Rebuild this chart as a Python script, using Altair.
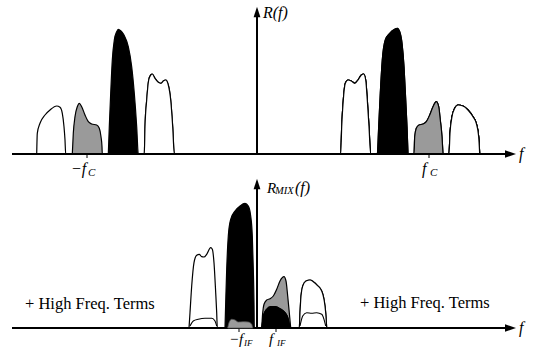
import altair as alt
import pandas as pd

# ---------------------------------------------------------------
# Spectra: frequency (offset from the R axis) and amplitude
# ---------------------------------------------------------------
# Top panel  R(f)
top_w1_f = [-220.3, -219.7, -217, -212, -207, -200.3, -197, -194.7, -193, -192, -191.3]
top_w1_a = [0, 20.7, 30.7, 39, 44, 48, 46.7, 40.7, 27.3, 14, 0]
top_g1_f = [-184.7, -183.7, -182, -179.7, -177.7, -175.3, -172, -168.7, -165.3, -160.3, -157.7, -156, -155, -154.7]
top_g1_a = [0, 20.7, 37.3, 47.3, 50.7, 47.3, 39, 32.3, 30, 29, 25.7, 17.3, 7.3, 0]
top_b1_f = [-148.7, -147.7, -146.3, -144.7, -142.7, -140.3, -138.7, -136.3, -133, -128.7, -125.3, -122.7, -120.3, -118.7]
top_b1_a = [0, 27.3, 60.7, 94, 114, 122.3, 124.7, 123.3, 119, 107.3, 87.3, 60.7, 27.3, 0]
top_w2_f = [-112.7, -112, -110.3, -108.3, -106.3, -104.7, -102, -98.7, -96, -93.7, -91.3, -88.7, -86.3, -84.3, -82.7]
top_w2_a = [0, 27.3, 54, 74, 79, 80, 75.7, 71.7, 70.7, 73, 74, 69, 54, 27.3, 0]
top_w3_f = [83.7, 84.7, 86.3, 88.3, 91, 94.3, 97.7, 101, 104.3, 106.7, 108.7, 110.3, 112, 113.7]
top_w3_a = [0, 27.3, 54, 70.7, 74, 73, 70.7, 74, 79, 80, 74, 54, 27.3, 0]
top_b2_f = [120.3, 121.7, 123.3, 125.3, 128.3, 132.7, 137.7, 140.3, 142.7, 145, 147, 148.7, 150, 151]
top_b2_a = [0, 27.3, 60.7, 94, 114, 120.7, 124.7, 125.7, 122.3, 110.7, 87.3, 54, 27.3, 0]
top_g2_f = [157, 157.7, 159.3, 162, 166, 169.3, 172.7, 176, 179.3, 181.7, 183.3, 185, 186]
top_g2_a = [0, 17.3, 25.7, 29, 30, 32.3, 39, 47.3, 52.3, 47.3, 34, 17.3, 0]
top_w4_f = [192, 193, 195, 197.7, 201, 206, 211, 216, 219.3, 221.7, 222.7]
top_w4_a = [0, 20.7, 37.3, 45.7, 49, 48, 44, 37.3, 30.7, 17.3, 0]

# Bottom panel  R_MIX(f)
bot_w1_f = [-68, -67, -65.3, -63, -60.3, -57.7, -55.3, -53, -50.3, -46.3, -44.7, -43, -41.3, -40.3, -39.7]
bot_w1_a = [0, 15.3, 42, 65.3, 72.7, 73.7, 71.3, 71, 73.7, 80.3, 78.7, 65.3, 35.3, 15.3, 0]
bot_w1_in_f = [-67, -63.7, -58.7, -52, -45.3, -42, -40.3]
bot_w1_in_a = [2, 7, 8.7, 9.7, 9.7, 7, 2]
bot_b1_f = [-32, -31.3, -30.3, -28.7, -26.3, -22, -17, -12, -8.7, -6.3, -4.7, -3.7, -3, -2.7]
bot_b1_a = [0, 25.3, 58.7, 92, 108.7, 117, 122, 124.7, 122, 112, 92, 58.7, 25.3, 0]
bot_g1_f = [-29.3, -28, -25.3, -22, -18.7, -13.7, -8.7, -5.3, -4.3]
bot_g1_a = [0, 5.3, 8.7, 8, 6, 6.3, 6, 3.7, 0]
bot_g2_f = [4.7, 5.7, 7, 9.7, 13, 16.3, 19.7, 23, 27, 29, 30.7, 32.3, 33.7]
bot_g2_a = [0, 15.3, 23.7, 28, 29.3, 32, 38.7, 47, 51.3, 47, 32, 15.3, 0]
bot_b2_f = [4.7, 6.3, 9.7, 13.7, 18, 23, 28, 31.3, 33]
bot_b2_a = [0, 12, 18.7, 21.3, 21.3, 19.3, 15.3, 8.7, 0]
bot_w2_f = [42.3, 43, 44, 45.7, 49, 53, 56.3, 60.3, 64.7, 67, 68.7, 69.7]
bot_w2_a = [0, 15.3, 32, 42, 47, 48, 46.3, 42.7, 37, 28.7, 15.3, 0]
bot_w2_in_f = [43, 45.7, 49.7, 54.7, 59.7, 64.7, 67, 68.7]
bot_w2_in_a = [2, 12, 15.3, 14.7, 15.3, 13.7, 8.7, 2]

# Axes (frequency extent) and markers
axis_f_start = -245
axis_f_end = 249
arrow_f = 253.5
top_vaxis_top = 137
top_arrow_amp = 142
bot_vaxis_top = 139
bot_arrow_amp = 144
top_tick_f = [-170, 172]
bot_tick_f = [-18, 19]

# Labels (main italic glyphs, subscripts, plain text)
top_main_text = ["f", "R(f)", "−f", "f"]
top_main_f = [262, 6, -186, 165]
top_main_a = [0, 141, -15, -15]
top_main_s = [16, 16, 16, 16]
top_sub_text = ["C", "C"]
top_sub_f = [-169, 173]
top_sub_a = [-19, -19]
top_sub_s = [11, 11]

bot_main_text = ["f", "R", "(f)", "−f", "f"]
bot_main_f = [262, 10, 38, -28, 12]
bot_main_a = [0, 140, 140, -11, -11]
bot_main_s = [16, 15, 16, 15, 15]
bot_sub_text = ["MIX", "IF", "IF"]
bot_sub_f = [18, -13, 20]
bot_sub_a = [137, -15, -15]
bot_sub_s = [10.5, 9, 9]
hf_text = ["+ High Freq. Terms", "+ High Freq. Terms"]
hf_f = [-232, 103]
hf_a = [24, 25]

SERIF = "Liberation Serif, Times New Roman, Times, serif"


def shape_df(items):
    rows = []
    for name, fs, amps in items:
        for f, a in zip(fs, amps):
            rows.append({"shape": name, "f": f, "amp": a})
    return pd.DataFrame(rows)


W = 536
XS = alt.Scale(domain=[-257, 279], nice=False, zero=False)


def panel(white, gray, black, inner, order, ticks, vtop, varrow, y_dom, height,
          main_df, sub_df, extra_text=None):
    YS = alt.Scale(domain=y_dom, nice=False, zero=False)
    x = alt.X("f:Q", scale=XS, axis=None)
    y = alt.Y("amp:Q", scale=YS, axis=None)

    def area(df, fill):
        return alt.Chart(df).mark_area(
            fill=fill, stroke="black", strokeWidth=1.2, interpolate="monotone",
            fillOpacity=1, strokeJoin="round"
        ).encode(x=x, y=y, detail="shape:N")

    layers = []
    fills = {"white": "white", "gray": "#9a9a9a", "black": "black"}
    groups = {"white": white, "gray": gray, "black": black}
    for key in order:
        if groups[key]:
            layers.append(area(shape_df(groups[key]), fills[key]))
    if inner:
        layers.append(
            alt.Chart(shape_df(inner)).mark_line(
                stroke="black", strokeWidth=1.1, interpolate="monotone"
            ).encode(x=x, y=y, detail="shape:N")
        )

    axis_df = pd.DataFrame({"f": [axis_f_start], "f2": [axis_f_end], "amp": [0]})
    layers.append(
        alt.Chart(axis_df).mark_rule(color="black", strokeWidth=2).encode(
            x=x, x2="f2:Q", y=y)
    )
    v_df = pd.DataFrame({"f": [0], "amp": [0], "amp2": [vtop]})
    layers.append(
        alt.Chart(v_df).mark_rule(color="black", strokeWidth=2).encode(
            x=x, y=y, y2="amp2:Q")
    )
    ah = pd.DataFrame({"f": [arrow_f], "amp": [0]})
    layers.append(
        alt.Chart(ah).mark_point(
            shape="M1,0L-1,-0.7L-1,0.7Z", filled=True, size=121,
            color="black", opacity=1, strokeWidth=0
        ).encode(x=x, y=y)
    )
    av = pd.DataFrame({"f": [0], "amp": [varrow]})
    layers.append(
        alt.Chart(av).mark_point(
            shape="M0,-1L-0.65,1L0.65,1Z", filled=True, size=110,
            color="black", opacity=1, strokeWidth=0
        ).encode(x=x, y=y)
    )
    tk = pd.DataFrame({"f": ticks, "amp": [0] * len(ticks), "amp2": [-4] * len(ticks)})
    layers.append(
        alt.Chart(tk).mark_rule(color="black", strokeWidth=1).encode(
            x=x, y=y, y2="amp2:Q")
    )
    for df in (main_df, sub_df):
        layers.append(
            alt.Chart(df).mark_text(
                font=SERIF, fontStyle="italic",
                align="left", baseline="middle", color="black"
            ).encode(x=x, y=y, text="text:N",
                     size=alt.Size("s:Q", scale=None, legend=None))
        )
    if extra_text is not None:
        layers.append(
            alt.Chart(extra_text).mark_text(
                font=SERIF, fontSize=16.5,
                align="left", baseline="middle", color="black"
            ).encode(x=x, y=y, text="text:N")
        )
    return alt.layer(*layers).properties(width=W, height=height)


top_main = pd.DataFrame({"text": top_main_text, "f": top_main_f, "amp": top_main_a, "s": top_main_s})
top_sub = pd.DataFrame({"text": top_sub_text, "f": top_sub_f, "amp": top_sub_a, "s": top_sub_s})
bot_main = pd.DataFrame({"text": bot_main_text, "f": bot_main_f, "amp": bot_main_a, "s": bot_main_s})
bot_sub = pd.DataFrame({"text": bot_sub_text, "f": bot_sub_f, "amp": bot_sub_a, "s": bot_sub_s})
hf = pd.DataFrame({"text": hf_text, "f": hf_f, "amp": hf_a})

top = panel(
    white=[("w1", top_w1_f, top_w1_a), ("w2", top_w2_f, top_w2_a),
           ("w3", top_w3_f, top_w3_a), ("w4", top_w4_f, top_w4_a)],
    gray=[("g1", top_g1_f, top_g1_a), ("g2", top_g2_f, top_g2_a)],
    black=[("b1", top_b1_f, top_b1_a), ("b2", top_b2_f, top_b2_a)],
    inner=None, order=["white", "gray", "black"],
    ticks=top_tick_f, vtop=top_vaxis_top, varrow=top_arrow_amp,
    y_dom=[-21, 154], height=175, main_df=top_main, sub_df=top_sub,
)

bottom = panel(
    white=[("w1", bot_w1_f, bot_w1_a), ("w2", bot_w2_f, bot_w2_a)],
    gray=[("g2", bot_g2_f, bot_g2_a)],
    black=[("b1", bot_b1_f, bot_b1_a), ("b2", bot_b2_f, bot_b2_a)],
    inner=[("i1", bot_w1_in_f, bot_w1_in_a), ("i2", bot_w2_in_f, bot_w2_in_a)],
    order=["white", "gray", "black"],
    ticks=bot_tick_f, vtop=bot_vaxis_top, varrow=bot_arrow_amp,
    y_dom=[-27, 147], height=174, main_df=bot_main, sub_df=bot_sub, extra_text=hf,
)

# small gray hump sitting inside the big black one of the bottom panel
x_enc = alt.X("f:Q", scale=XS, axis=None)
y_enc = alt.Y("amp:Q", scale=alt.Scale(domain=[-27, 147], nice=False, zero=False), axis=None)
g1 = alt.Chart(shape_df([("g1", bot_g1_f, bot_g1_a)])).mark_area(
    fill="#9a9a9a", stroke="#555555", strokeWidth=0.8, interpolate="monotone"
).encode(x=x_enc, y=y_enc, detail="shape:N")
bottom = alt.layer(bottom, g1).properties(width=W, height=174)

chart = alt.vconcat(top, bottom, spacing=0).resolve_scale(
    x="independent", y="independent"
).properties(padding=0, background="white").configure_view(stroke=None)

chart.save("out.html", embed_options={"renderer": "svg", "actions": False})
